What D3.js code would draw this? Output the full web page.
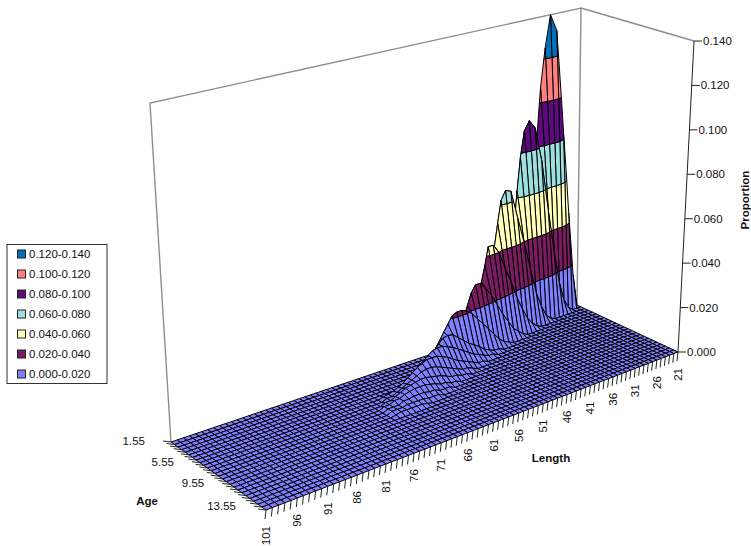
<!DOCTYPE html>
<html><head><meta charset="utf-8">
<style>html,body{margin:0;padding:0;background:#fff}svg{display:block}text{font-family:"Liberation Sans",Arial,sans-serif;font-size:11.5px;fill:#111}</style>
<script src="https://cdn.jsdelivr.net/npm/d3@7/dist/d3.min.js"></script>
</head><body><svg id="c" width="751" height="546"></svg>
<script>
// ---- data ----
const lengths = d3.range(21, 102);
const ages = d3.range(0, 26).map(i => +(1.55 + i * 0.5).toFixed(2));
const lengthTicks = [21,26,31,36,41,46,51,56,61,66,71,76,81,86,91,96,101];
const ageTicks = [1.55,5.55,9.55,13.55];
const zTicks = [0,0.02,0.04,0.06,0.08,0.10,0.12,0.14];
const bandLabels = ["0.000-0.020","0.020-0.040","0.040-0.060","0.060-0.080","0.080-0.100","0.100-0.120","0.120-0.140"];
const bandColors = ["#7F7FFF","#7B1C62","#FFFFB8","#9EE0E0","#5E0A80","#FF8080","#0072BC"];
// first length of each non-zero run, one per age row
const rowStart = [22,24,29,33,37,41,44,46,49,52,54,57,59,62,65];
const age1 = [.015,.045,.085,.132,.140,.125,.107,.083,.060,.040,.025,.014,.007,.003,.001];
const age2 = [.002,.006,.015,.030,.050,.074,.090,.094,.090,.078,.063,.047,.032,.020,.012,.006,.003,.001];
const age3 = [.001,.003,.008,.015,.027,.040,.052,.065,.066,.062,.052,.042,.029,.018,.010,.006,.003,.001];
const age4 = [.001,.003,.006,.011,.017,.025,.032,.040,.044,.044,.036,.029,.022,.016,.011,.007,.004,.002,.001];
const age5 = [.001,.003,.005,.009,.013,.018,.023,.027,.030,.030,.027,.022,.017,.012,.008,.005,.003,.001];
const age6 = [.001,.002,.004,.007,.010,.013,.016,.019,.021,.022,.022,.021,.018,.015,.012,.009,.006,.004,.002,.001];
const age7 = [.001,.001,.002,.003,.005,.0065,.008,.010,.012,.014,.0145,.014,.012,.010,.008,.0065,.005,.003,.002,.001];
const age8 = [.001,.001,.002,.003,.004,.0055,.007,.0085,.010,.011,.012,.012,.0115,.010,.0085,.007,.005,.0035,.002,.001];
const age9 = [.001,.001,.002,.003,.004,.005,.0065,.008,.009,.010,.010,.010,.009,.008,.0065,.005,.0035,.0025,.0015,.001,.0005];
const age10 = [.001,.002,.002,.003,.004,.005,.006,.007,.0075,.0075,.007,.006,.005,.004,.003,.002,.001,.001];
const age11 = [.001,.001,.002,.002,.003,.004,.0045,.005,.0055,.0055,.005,.0045,.004,.003,.002,.001,.001];
const age12 = [.001,.001,.002,.002,.003,.0035,.004,.004,.004,.0035,.003,.002,.002,.001,.001];
const age13 = [.001,.001,.001,.002,.002,.0025,.0025,.0025,.002,.002,.001,.001,.001];
const age14 = [.001,.001,.001,.0015,.0015,.0015,.0015,.001,.001,.001];
const age15 = [.0005,.001,.001,.001,.001,.001,.0005];
const rows = [age1,age2,age3,age4,age5,age6,age7,age8,age9,age10,age11,age12,age13,age14,age15];

const value = (i, j) => {
  const r = rows[j]; if (!r) return 0;
  const v = r[lengths[i] - rowStart[j]];
  return v === undefined ? 0 : v;
};

// ---- projection: floor and ceiling planes calibrated from the wall corners ----
const uScale = d3.scaleLinear().domain([21, 101]).range([0, 1]);
const vScale = d3.scaleLinear().domain([1.55, 14.05]).range([0, 1]);
const zScale = d3.scaleLinear().domain([0, 0.14]).range([0, 1]);
const floorCorners = [[577,305],[171,442],[266,510],[678,352]];
const topCorners = [[581,8],[150,103],[258,130],[694,41]];
function homography([[x0,y0],[x1,y1],[x2,y2],[x3,y3]]){
  const dx1=x1-x2,dx2=x3-x2,sx=x0-x1+x2-x3,dy1=y1-y2,dy2=y3-y2,sy=y0-y1+y2-y3;
  const d=dx1*dy2-dx2*dy1, g=(sx*dy2-dx2*sy)/d, h=(dx1*sy-sx*dy1)/d;
  const a=x1-x0+g*x1,b=x3-x0+h*x3,c=x0,e=y1-y0+g*y1,f=y3-y0+h*y3,k=y0;
  return (u,v)=>{const w=g*u+h*v+1;return [(a*u+b*v+c)/w,(e*u+f*v+k)/w];};
}
const floorH = homography(floorCorners), topH = homography(topCorners);
const project = (L, age, z) => {
  const u=uScale(L),v=vScale(age),t=zScale(z);
  const a=floorH(u,v),b=topH(u,v);
  return [a[0]+t*(b[0]-a[0]),a[1]+t*(b[1]-a[1])];
};

// ---- build band-clipped cells, far to near ----
const bandEdges = zTicks;
function clip(poly, lo, hi){
  const cut=(pts,lim,keepAbove)=>{
    const out=[];
    pts.forEach((p,k)=>{
      const q=pts[(k+1)%pts.length];
      const ip=keepAbove?p[2]>=lim:p[2]<=lim, iq=keepAbove?q[2]>=lim:q[2]<=lim;
      if(ip)out.push(p);
      if(ip!==iq){const t=(lim-p[2])/(q[2]-p[2]);out.push([p[0]+t*(q[0]-p[0]),p[1]+t*(q[1]-p[1]),lim]);}
    });
    return out;
  };
  let r=cut(poly,lo,true); if(r.length) r=cut(r,hi,false);
  return r;
}
const cells=[];
for(let j=0;j<ages.length-1;j++){
  for(let i=0;i<lengths.length-1;i++){
    const q=[[lengths[i],ages[j],value(i,j)],[lengths[i+1],ages[j],value(i+1,j)],[lengths[i+1],ages[j+1],value(i+1,j+1)],[lengths[i],ages[j+1],value(i,j+1)]];
    if(d3.max(q,p=>p[2])===0){cells.push({b:0,p:q});continue;}
    for(let b=0;b<bandColors.length;b++){
      const c=clip(q,bandEdges[b],bandEdges[b+1]);
      if(c.length>2 && !(b>0 && d3.max(c,p=>p[2])<=bandEdges[b]+1e-9)) cells.push({b,p:c});
    }
  }
}

const svg=d3.select("#c");
const line=d3.line();
const P=(L,a,z)=>project(L,a,z);
const aMin=ages[0],aMax=ages[ages.length-1],L0=21,L1=101,zTop=0.14;
// walls
const walls=[[[L1,aMin,0],[L1,aMin,zTop],[L0,aMin,zTop],[L0,aMin,0]],[[L0,aMin,zTop],[L0,aMax,zTop]]];
svg.append("g").selectAll("path").data(walls).join("path")
  .attr("d",d=>line(d.map(p=>P(...p)))).attr("fill","none").attr("stroke","#8e8e8e").attr("stroke-width",1.4);
// surface
svg.append("g").selectAll("path").data(cells).join("path")
  .attr("d",d=>line(d.p.map(p=>P(...p)))+"Z")
  .attr("fill",d=>bandColors[d.b]).attr("stroke","#000").attr("stroke-width",1).attr("stroke-linejoin","round");
// z axis
const ax=svg.append("g");
ax.append("path").attr("d",line([P(L0,aMax,0),P(L0,aMax,zTop)])).attr("stroke","#222").attr("fill","none");
const zg=ax.selectAll("g").data(zTicks).join("g");
zg.append("line").attr("x1",d=>P(L0,aMax,d)[0]).attr("y1",d=>P(L0,aMax,d)[1]).attr("x2",d=>P(L0,aMax,d)[0]+8).attr("y2",d=>P(L0,aMax,d)[1]).attr("stroke","#222");
zg.append("text").attr("x",d=>P(L0,aMax,d)[0]+9).attr("y",d=>P(L0,aMax,d)[1]+4).text(d=>d.toFixed(3));
// length axis
const lg=svg.append("g");
lg.selectAll("line").data(lengths).join("line")
  .attr("x1",d=>P(d,aMax,0)[0]).attr("y1",d=>P(d,aMax,0)[1])
  .attr("x2",d=>P(d,aMax,0)[0]-1).attr("y2",d=>P(d,aMax,0)[1]+9).attr("stroke","#222");
lg.selectAll("text").data(lengthTicks).join("text")
  .attr("text-anchor","end")
  .attr("transform",d=>{const p=P(d,aMax,0);return `translate(${p[0]+4},${p[1]+16}) rotate(-90)`;}).text(d=>d);
// age axis
const ag=svg.append("g");
ag.selectAll("line").data(ages).join("line")
  .attr("x1",d=>P(L1,d,0)[0]).attr("y1",d=>P(L1,d,0)[1])
  .attr("x2",d=>P(L1,d,0)[0]-8).attr("y2",d=>P(L1,d,0)[1]-1).attr("stroke","#222");
ag.selectAll("text").data(ageTicks).join("text")
  .attr("text-anchor","end")
  .attr("x",d=>P(L1,d,0)[0]-26).attr("y",d=>P(L1,d,0)[1]+3).text(d=>d);
// titles
const bold=s=>s.style("font-weight","bold");
bold(svg.append("text").attr("x",551).attr("y",462).attr("text-anchor","middle").text("Length"));
bold(svg.append("text").attr("x",147).attr("y",505).attr("text-anchor","middle").text("Age"));
bold(svg.append("text").attr("transform","translate(749,200) rotate(-90)").attr("text-anchor","middle").text("Proportion"));
// legend
const legendY=d3.scalePoint().domain(d3.range(bandLabels.length).reverse()).range([254,374]);
svg.append("rect").attr("x",7).attr("y",244.5).attr("width",100).attr("height",139).attr("fill","#fff").attr("stroke","#333");
const lr=svg.append("g").selectAll("g").data(d3.range(bandLabels.length)).join("g");
lr.append("rect").attr("x",17.5).attr("y",d=>legendY(d)-4).attr("width",8).attr("height",8).attr("fill",d=>bandColors[d]).attr("stroke","#222");
lr.append("text").attr("x",29).attr("y",d=>legendY(d)+4).text(d=>bandLabels[d]);
</script></body></html>
